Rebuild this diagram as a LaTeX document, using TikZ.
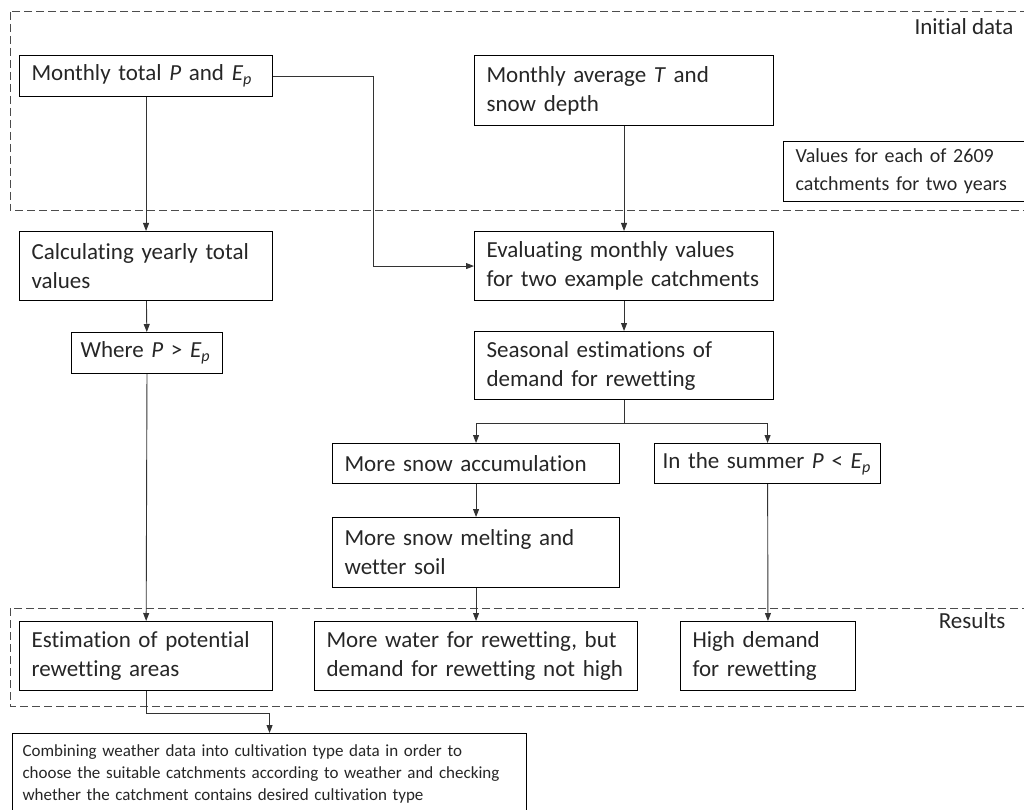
\documentclass[tikz,border=0pt]{standalone}
\usepackage{fontspec}
\setmainfont{Carlito}[Ligatures=NoCommon]
\usetikzlibrary{arrows.meta}
\newcommand{\Ep}{\textit{E}\textsubscript{\textit{p}}}
\tikzset{
  blk/.style={draw, line width=1.1pt, anchor=north west, inner xsep=12pt, inner ysep=0pt,
    align=left, text=black!85, font=\fontsize{23}{29}\selectfont},
  arr/.style={-{Triangle[length=8pt,width=6pt]}, line width=0.9pt, draw=black!80},
  frame/.style={draw=black!70, line width=1pt, dash pattern=on 8pt off 4pt},
  tag/.style={anchor=base east, text=black!85, font=\fontsize{23}{29}\selectfont}
}
\begin{document}
\begin{tikzpicture}[x=1pt, y=-1pt]
  \useasboundingbox (0,0) rectangle (1024,810);
  % dashed groups
  \draw[frame] (10,12) rectangle (1040,211);
  \draw[frame] (10,608) rectangle (1040,706);
  \node[tag] (initial) at (1017,35) {Initial data};
  \node[tag] (results) at (1009,628) {Results};
  % boxes
  \node[blk, text width=229pt, minimum height=41pt] (A) at (19,55) {Monthly total \textit{P} and \Ep};
  \node[blk, text width=275pt, minimum height=70pt] (B) at (474,55) {Monthly average \textit{T} and\\snow depth};
  \node[blk, text width=236pt, minimum height=60pt, font=\fontsize{20}{28}\selectfont] (C) at (783,141)
    {Values for each of 2609\\catchments for two years};
  \node[blk, text width=229pt, minimum height=69pt] (D) at (19,231) {Calculating yearly total\\values};
  \node[blk, text width=275pt, minimum height=69pt] (E) at (474,231) {Evaluating monthly values\\for two example catchments};
  \node[blk, text width=133pt, minimum height=41pt, inner xsep=9pt] (F) at (71,332) {Where \textit{P} > \Ep};
  \node[blk, text width=210pt, minimum height=40pt, inner xsep=8pt] (I) at (654,443) {In the summer \textit{P} < \Ep};
  \node[blk, text width=275pt, minimum height=68pt] (G) at (474,331) {Seasonal estimations of\\demand for rewetting};
  \node[blk, text width=263pt, minimum height=40pt] (H) at (332,443) {More snow accumulation};
  \node[blk, text width=263pt, minimum height=70pt] (J) at (332,517) {More snow melting and\\wetter soil};
  \node[blk, text width=229pt, minimum height=69pt] (K) at (19,621) {Estimation of potential\\rewetting areas};
  \node[blk, text width=299pt, minimum height=69pt] (L) at (314,621) {More water for rewetting, but\\demand for rewetting not high};
  \node[blk, text width=151pt, minimum height=69pt] (M) at (680,621) {High demand\\for rewetting};
  \node[blk, text width=494pt, minimum height=80pt, inner xsep=10pt, font=\fontsize{17}{22}\selectfont] (N) at (12,733)
    {Combining weather data into cultivation type data in order to\\choose the suitable catchments according to weather and checking\\whether the catchment contains desired cultivation type};
  % connectors
  \draw[arr] (A) -- (D);
  \draw[arr] (A.east) -- ++(100,0) |- (E.west);
  \draw[arr] (B) -- (E);
  \draw[arr] (D) -- (F);
  \draw[arr] (E) -- (G);
  \draw[arr] (G.south) -- ++(0,23) -| (H.north);
  \draw[arr] (G.south) -- ++(0,23) -| (I.north);
  \draw[arr] (H) -- (J);
  \draw[arr] (F) -- (K);
  \draw[arr] (J) -- (L);
  \draw[arr] (I) -- (M);
  \draw[arr] (K.south) -- ++(0,22) -| (N.north);
\end{tikzpicture}
\end{document}
